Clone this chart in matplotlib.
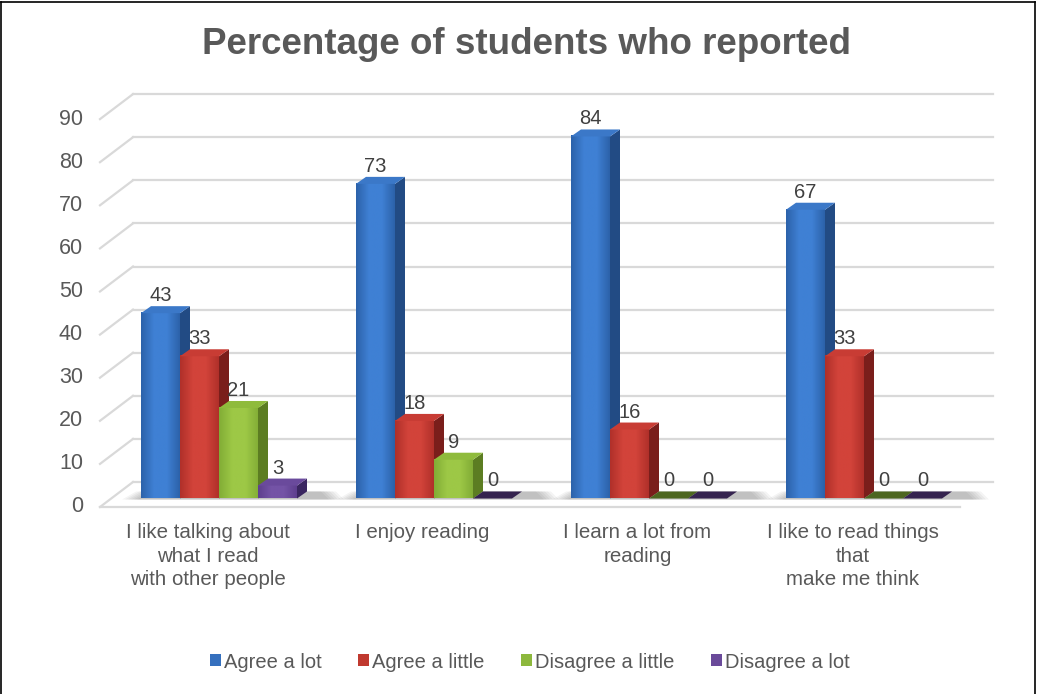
import matplotlib
matplotlib.use('Agg')
import matplotlib.pyplot as plt
import numpy as np
from matplotlib.patches import Polygon, Patch
from matplotlib.colors import LinearSegmentedColormap
from matplotlib.lines import Line2D

plt.rcParams['font.family'] = ['Liberation Sans', 'DejaVu Sans']

# ---------------- data ----------------
categories = ["I like talking about\nwhat I read\nwith other people",
              "I enjoy reading",
              "I learn a lot from\nreading",
              "I like to read things\nthat\nmake me think"]
series_names = ["Agree a lot", "Agree a little", "Disagree a little", "Disagree a lot"]
agree_lot = [43, 73, 84, 67]
agree_little = [33, 18, 16, 33]
disagree_little = [21, 9, 0, 0]
disagree_lot = [3, 0, 0, 0]
y_ticks = [0, 10, 20, 30, 40, 50, 60, 70, 80, 90]
title = "Percentage of students who reported"

series_values = [agree_lot, agree_little, disagree_little, disagree_lot]

# colours: (front edge, front centre, side, top, zero-top, legend)
styles = [
    ("#2C62AA", "#3F80D4", "#224B84", "#3B78C8", "#2A4F86", "#3570BE"),
    ("#B0302A", "#D2433A", "#7A1E1B", "#C83C34", "#7A1E1B", "#C0392F"),
    ("#82AD36", "#9DC846", "#5C7D22", "#8FBB3C", "#4D6620", "#8DB83D"),
    ("#5E3F8E", "#7453A6", "#3A2660", "#6A4A9C", "#35234F", "#6A4A9A"),
]

# ---------------- geometry (data units) ----------------
PX_X = 1 / 215.0      # one pixel in x data units
PX_Y = 1 / 4.31       # one pixel in y data units
DXB, DYB = 33 * PX_X, 25 * PX_Y     # floor depth (front edge -> back wall)
DXF, DYF = 11.5 * PX_X, 8.5 * PX_Y  # bars' front face depth
DXD, DYD = 10 * PX_X, 7 * PX_Y      # bar depth
BW = 39 * PX_X                      # bar width
GROUP_HALF = 2 * BW

fig = plt.figure(figsize=(10.37, 6.94), dpi=100)
ax = fig.add_axes([0, 0, 1, 1])
ax.axis('off')

grid_c = "#D9D9D9"
# back wall gridlines + side slants
for v in y_ticks:
    ax.plot([-0.5, -0.5 + DXB], [v, v + DYB], color=grid_c, lw=1.6, zorder=1)
    ax.plot([-0.5 + DXB, 3.5 + DXB], [v + DYB, v + DYB], color=grid_c, lw=1.6, zorder=1)
ax.plot([-0.5, 3.5], [0, 0], color=grid_c, lw=1.6, zorder=1)

# axis tick labels
for v in y_ticks:
    ax.text(-0.5 - 17 * PX_X, v, str(v), ha='right', va='center',
            fontsize=15.5, color='#595959')

# category labels
for i, c in enumerate(categories):
    ax.text(i, -16 * PX_Y, c, ha='center', va='top', fontsize=14.8,
            color='#595959', linespacing=1.3)

z = 3
for i in range(len(categories)):
    gx0 = i - GROUP_HALF + DXF
    # soft floor shadow under the group
    for s in range(6):
        e = s * 3 * PX_X
        shadow = Polygon([(gx0 - 4 * PX_X - e, DYF - 1 * PX_Y),
                          (gx0 + 4 * BW + DXD + 22 * PX_X + e, DYF - 1 * PX_Y),
                          (gx0 + 4 * BW + DXD + 14 * PX_X + e, DYF + DYD),
                          (gx0 + DXD - e, DYF + DYD)],
                         closed=True, facecolor='#000000', alpha=0.045,
                         edgecolor='none', zorder=2)
        ax.add_patch(shadow)
    for k, vals in enumerate(series_values):
        v = vals[i]
        fe, fc, sc, tc, zc, lc = styles[k]
        x0 = gx0 + k * BW
        y0 = DYF
        if v > 0:
            cmap = LinearSegmentedColormap.from_list("g", [fe, fc, fc, fe])
            ax.imshow(np.linspace(0, 1, 64)[None, :], cmap=cmap,
                      extent=[x0, x0 + BW, y0, y0 + v], aspect='auto',
                      zorder=z, interpolation='bilinear')
            side = Polygon([(x0 + BW, y0), (x0 + BW + DXD, y0 + DYD),
                            (x0 + BW + DXD, y0 + v + DYD), (x0 + BW, y0 + v)],
                           closed=True, facecolor=sc, edgecolor='none', zorder=z)
            ax.add_patch(side)
            top_c = tc
        else:
            top_c = zc
        top = Polygon([(x0, y0 + v), (x0 + DXD, y0 + v + DYD),
                       (x0 + BW + DXD, y0 + v + DYD), (x0 + BW, y0 + v)],
                      closed=True, facecolor=top_c, edgecolor='none', zorder=z)
        ax.add_patch(top)
        z += 1
        ax.text(x0 + BW / 2, y0 + v + 12 * PX_Y, str(v), ha='center',
                va='baseline', fontsize=14.5, color='#404040', zorder=50)

ax.set_xlim(-0.5 - 100 * PX_X, -0.5 + 937 * PX_X)
ax.set_ylim((507 - 694) * PX_Y, 507 * PX_Y)

# title
fig.text(527 / 1037, 1 - 44 / 694, title, ha='center', va='center',
         fontsize=26.5, fontweight='bold', color='#595959')

# legend
handles = [Patch(facecolor=s[5], edgecolor='none') for s in styles]
fig.legend(handles, series_names, loc='center', bbox_to_anchor=(530 / 1037, 1 - 662 / 694),
           ncol=4, frameon=False, fontsize=14.5, handlelength=0.55, handleheight=0.55,
           handletextpad=0.15, columnspacing=1.8, labelcolor='#595959')

# chart border
for seg in [([1, 1], [0, 692]), ([1, 1035], [692, 692]), ([1035, 1035], [0, 692])]:
    fig.add_artist(Line2D([seg[0][0] / 1037, seg[0][1] / 1037],
                          [seg[1][0] / 694, seg[1][1] / 694],
                          color='black', lw=1.2))

fig.savefig("out.png", dpi=100)
